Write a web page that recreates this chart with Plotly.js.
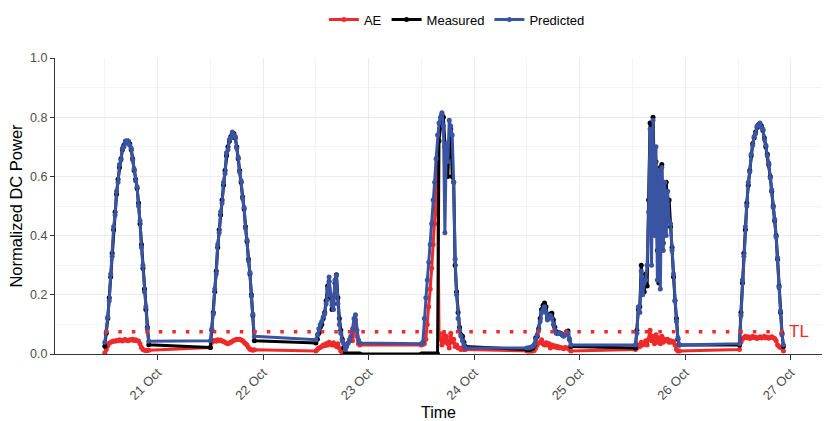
<!DOCTYPE html>
<html>
<head>
<meta charset="utf-8">
<script src="https://cdn.plot.ly/plotly-3.0.1.min.js"></script>
<style>
  html, body { margin: 0; padding: 0; background: #ffffff; }
  #chart { width: 832px; height: 421px; }
</style>
</head>
<body>
<div id="chart"></div>
<script>
// ---------------- DATA ----------------
// Sampling: one value every 20 minutes, daytime only; each day starts at its listed time.
const stepMinutes = 20;
const dayStarts = ['2023-10-20 12:00', '2023-10-21 12:00', '2023-10-22 12:00', '2023-10-23 12:00',
                   '2023-10-24 12:00', '2023-10-25 12:40', '2023-10-26 12:20'];

const measured20 = [0.026,0.07,0.12,0.19,0.26,0.34,0.42,0.48,0.54,0.59,0.63,0.66,0.69,0.705,0.715,0.72,0.718,0.71,0.69,0.66,0.62,0.59,0.56,0.51,0.44,0.37,0.29,0.22,0.15,0.09,0.031];
const measured21 = [0.022,0.08,0.14,0.21,0.28,0.36,0.42,0.47,0.52,0.57,0.62,0.67,0.70,0.72,0.735,0.745,0.745,0.73,0.70,0.66,0.62,0.58,0.53,0.49,0.43,0.38,0.32,0.27,0.20,0.13,0.045];
const measured22 = [0.037,0.05,0.07,0.09,0.10,0.12,0.14,0.18,0.23,0.245,0.19,0.15,0.17,0.24,0.268,0.19,0.12,0.08,0.05,0.02,0,0,0,0,0,0,0,0,0,0,0];
const measured23 = [0,0,0,0,0,0,0,0,0,0,0,0,0.72,0.78,0.81,0.80,0.70,0.62,0.60,0.72,0.76,0.60,0.58,0.30,0.21,0.14,0.09,0.065,0.06,0.04,0.025];
const measured24 = [0.015,0.015,0.016,0.018,0.02,0.03,0.055,0.06,0.085,0.12,0.15,0.165,0.172,0.16,0.12,0.13,0.135,0.138,0.116,0.09,0.075,0.07,0.072,0.07,0.065,0.062,0.066,0.075,0.078,0.05,0.025];
const measured25 = [0.02,0.08,0.15,0.16,0.30,0.22,0.21,0.27,0.23,0.52,0.78,0.65,0.80,0.60,0.65,0.35,0.24,0.63,0.64,0.375,0.57,0.58,0.50,0.52,0.43,0.36,0.26,0.18,0.12,0.05,0.03];
const measured26 = [0.03,0.14,0.24,0.34,0.42,0.51,0.57,0.62,0.67,0.71,0.73,0.75,0.765,0.775,0.775,0.77,0.755,0.73,0.70,0.675,0.64,0.60,0.55,0.50,0.45,0.40,0.32,0.23,0.14,0.07,0.025];

const predicted20 = [0.04,0.075,0.125,0.18,0.27,0.33,0.43,0.47,0.55,0.58,0.64,0.655,0.695,0.70,0.72,0.715,0.72,0.705,0.695,0.655,0.625,0.585,0.565,0.50,0.45,0.36,0.30,0.21,0.16,0.085,0.043];
const predicted21 = [0.045,0.085,0.135,0.22,0.27,0.37,0.41,0.48,0.51,0.58,0.61,0.68,0.69,0.725,0.73,0.75,0.74,0.735,0.695,0.665,0.615,0.585,0.525,0.495,0.425,0.385,0.315,0.275,0.195,0.135,0.06];
const predicted22 = [0.048,0.065,0.085,0.10,0.11,0.125,0.135,0.17,0.22,0.26,0.20,0.165,0.15,0.25,0.265,0.17,0.10,0.07,0.045,0.035,0.015,0.025,0.037,0.045,0.06,0.085,0.12,0.133,0.08,0.048,0.037];
const predicted23 = [0.035,0.04,0.12,0.19,0.25,0.31,0.37,0.44,0.52,0.58,0.66,0.74,0.78,0.80,0.815,0.77,0.41,0.71,0.65,0.79,0.77,0.74,0.58,0.32,0.20,0.12,0.08,0.06,0.045,0.03,0.02];
const predicted24 = [0.02,0.02,0.022,0.024,0.026,0.032,0.05,0.065,0.08,0.11,0.14,0.15,0.16,0.14,0.115,0.125,0.13,0.12,0.10,0.08,0.07,0.068,0.07,0.068,0.066,0.06,0.064,0.075,0.07,0.05,0.03];
const predicted25 = [0.03,0.07,0.16,0.14,0.28,0.20,0.24,0.25,0.30,0.48,0.76,0.30,0.79,0.40,0.70,0.25,0.62,0.22,0.63,0.35,0.58,0.40,0.55,0.45,0.44,0.35,0.27,0.18,0.11,0.055,0.03];
const predicted26 = [0.035,0.13,0.25,0.33,0.43,0.50,0.58,0.615,0.675,0.705,0.735,0.745,0.77,0.77,0.78,0.765,0.76,0.725,0.705,0.67,0.645,0.595,0.555,0.495,0.455,0.395,0.325,0.225,0.145,0.065,0.03];

const ae20 = [0.004,0.015,0.028,0.036,0.04,0.042,0.044,0.043,0.046,0.045,0.048,0.046,0.044,0.047,0.049,0.046,0.045,0.048,0.047,0.05,0.046,0.048,0.045,0.044,0.035,0.022,0.015,0.013,0.012,0.012,0.013];
const ae21 = [0.022,0.04,0.044,0.046,0.043,0.048,0.045,0.047,0.044,0.042,0.04,0.036,0.035,0.038,0.04,0.043,0.046,0.048,0.05,0.049,0.05,0.047,0.045,0.04,0.035,0.03,0.022,0.016,0.014,0.013,0.014];
const ae22 = [0.01,0.015,0.02,0.022,0.025,0.03,0.028,0.035,0.03,0.04,0.035,0.03,0.038,0.03,0.025,0.035,0.02,0.01,0.005,0.02,0.01,0.03,0.037,0.05,0.06,0.045,0.09,0.115,0.06,0.035,0.03];
const ae23 = [0.03,0.033,0.035,0.05,0.10,0.16,0.22,0.29,0.37,0.44,0.53,0.65,0.07,0.05,0.03,0.07,0.04,0.06,0.035,0.02,0.07,0.04,0.05,0.025,0.03,0.02,0.02,0.015,0.02,0.015,0.015];
const ae24 = [0.01,0.01,0.01,0.01,0.01,0.012,0.02,0.03,0.037,0.04,0.048,0.035,0.03,0.038,0.03,0.035,0.02,0.03,0.025,0.028,0.022,0.025,0.02,0.022,0.02,0.018,0.022,0.02,0.02,0.015,0.01];
const ae25 = [0.015,0.02,0.03,0.025,0.04,0.03,0.035,0.045,0.03,0.05,0.08,0.045,0.06,0.035,0.065,0.04,0.055,0.035,0.06,0.04,0.05,0.045,0.05,0.04,0.045,0.04,0.042,0.03,0.015,0.01,0.01];
const ae26 = [0.015,0.04,0.05,0.055,0.06,0.055,0.058,0.052,0.056,0.06,0.055,0.057,0.052,0.055,0.058,0.054,0.056,0.06,0.055,0.057,0.053,0.056,0.058,0.055,0.052,0.045,0.03,0.025,0.022,0.02,0.01];

const thresholdTL = 0.075;
const seriesNames = ['AE', 'Measured', 'Predicted'];
const xTickDays = ['2023-10-21','2023-10-22','2023-10-23','2023-10-24','2023-10-25','2023-10-26','2023-10-27'];
const xMinorNoons = ['2023-10-20 12:00','2023-10-21 12:00','2023-10-22 12:00','2023-10-23 12:00','2023-10-24 12:00','2023-10-25 12:00','2023-10-26 12:00'];

// ---------------- BUILD ----------------
function stamps(start, n) {
  const parts = start.split(' ');
  const d = parts[0].split('-').map(Number);
  const t = parts[1].split(':').map(Number);
  const base = Date.UTC(d[0], d[1] - 1, d[2], t[0], t[1]);
  const out = [];
  for (let k = 0; k < n; k++) {
    out.push(new Date(base + k * stepMinutes * 60000).toISOString().slice(0, 19).replace('T', ' '));
  }
  return out;
}
function join(days) {
  let xs = [], ys = [];
  days.forEach((vals, i) => { xs = xs.concat(stamps(dayStarts[i], vals.length)); ys = ys.concat(vals); });
  return {x: xs, y: ys};
}
const M = join([measured20, measured21, measured22, measured23, measured24, measured25, measured26]);
const P = join([predicted20, predicted21, predicted22, predicted23, predicted24, predicted25, predicted26]);
const A = join([ae20, ae21, ae22, ae23, ae24, ae25, ae26]);

const red = '#ee2a2a', black = '#000000', blue = '#3a54a4';
const font = 'Liberation Sans, Arial, Helvetica, sans-serif';

function tr(d, name, color) {
  return {x: d.x, y: d.y, name: name, type: 'scatter', mode: 'lines+markers',
          line: {color: color, width: 3}, marker: {color: color, size: 5}, hoverinfo: 'skip'};
}
const traces = [
  tr(A, seriesNames[0], red),
  tr(M, seriesNames[1], black),
  tr(P, seriesNames[2], blue),
  {x: [A.x[0], A.x[A.x.length - 1]], y: [thresholdTL, thresholdTL], type: 'scatter', mode: 'lines',
   line: {color: red, width: 3.5, dash: '3.5px,10px'}, showlegend: false, hoverinfo: 'skip'}
];

const layout = {
  width: 832, height: 421,
  margin: {l: 55, r: 10, t: 58, b: 67, autoexpand: false},
  paper_bgcolor: '#ffffff', plot_bgcolor: '#ffffff',
  font: {family: font, color: '#000000'},
  showlegend: true,
  legend: {orientation: 'h', x: 0.524, xanchor: 'center', y: 1.13, yanchor: 'middle',
           font: {size: 13, color: '#000000', family: font}, itemwidth: 30},
  xaxis: {
    type: 'date',
    range: ['2023-10-20 00:40', '2023-10-27 07:06'],
    tickvals: xTickDays, tickformat: '%d %b', tickangle: -45,
    ticks: 'outside', ticklen: 5, tickcolor: '#333333', tickwidth: 1,
    showline: true, linecolor: '#333333', linewidth: 1,
    showgrid: true, gridcolor: '#ebebeb', gridwidth: 1.1,
    minor: {tickvals: xMinorNoons, showgrid: true, gridcolor: '#f4f4f4', gridwidth: 1, ticks: ''},
    tickfont: {size: 13, color: '#4d4d4d', family: font},
    title: {text: 'Time', font: {size: 16, color: '#000000', family: font}, standoff: 8},
    zeroline: false, fixedrange: true
  },
  yaxis: {
    range: [0, 1], dtick: 0.2, tick0: 0, tickformat: '.1f',
    ticks: 'outside', ticklen: 4, tickcolor: '#333333', tickwidth: 1,
    showline: true, linecolor: '#333333', linewidth: 1,
    showgrid: true, gridcolor: '#ebebeb', gridwidth: 1.1,
    minor: {dtick: 0.1, showgrid: true, gridcolor: '#f4f4f4', gridwidth: 1, ticks: ''},
    tickfont: {size: 12.5, color: '#4d4d4d', family: font},
    title: {text: 'Normalized DC Power', font: {size: 16.5, color: '#000000', family: font}, standoff: 3},
    zeroline: false, fixedrange: true
  },
  annotations: [{
    x: '2023-10-26 23:10', y: thresholdTL, xref: 'x', yref: 'y', text: 'TL', showarrow: false,
    xanchor: 'left', yanchor: 'middle', font: {size: 17, color: red, family: font}
  }]
};

Plotly.newPlot('chart', traces, layout, {displayModeBar: false, staticPlot: true});
</script>
</body>
</html>
